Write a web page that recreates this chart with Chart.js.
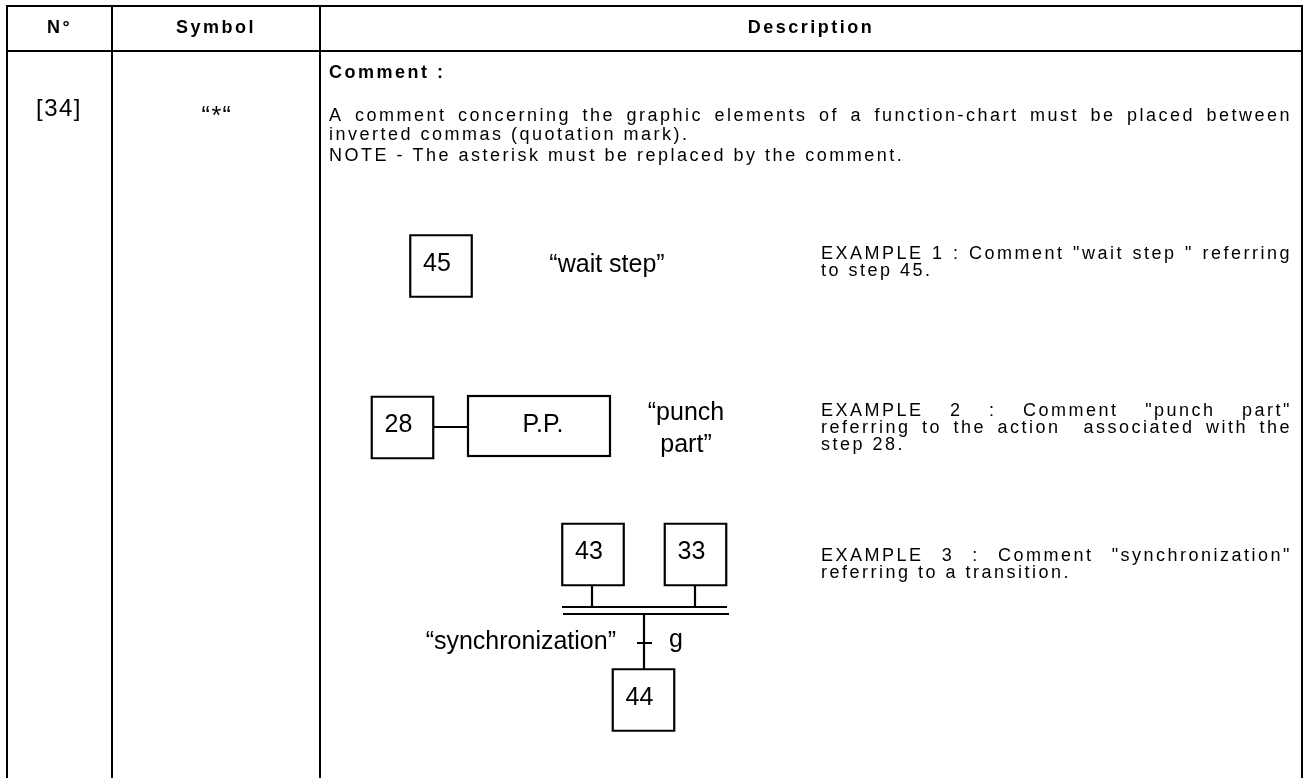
<!DOCTYPE html>
<html lang="en">
<head>
    <meta charset="UTF-8">
    <title>Comment symbol</title>
    <script src="https://cdn.jsdelivr.net/npm/chart.js"></script>
    <style>
        html, body { margin: 0; padding: 0; background: #fff; }
        #wrap { width: 1309px; height: 778px; }
    </style>
</head>
<body>
    <div id="wrap"><canvas id="sheet"></canvas></div>

    <script>
        // Table content
        const headers = ['N°', 'Symbol', 'Description'];
        const rowNumber = '[34]';
        const rowSymbol = '“*“';
        const descTitle = 'Comment :';
        const descText = [
            'A comment concerning the graphic elements of a function-chart must be placed between',
            'inverted commas (quotation mark).'
        ];
        const noteText = 'NOTE - The asterisk must be replaced by the comment.';

        // Diagram content
        const stepNumbers = ['45', '28', '43', '33', '44'];
        const actionLabels = ['P.P.'];
        const commentLabels = ['“wait step”', '“punch', 'part”', '“synchronization”'];
        const transitionLabels = ['g'];
        const example1 = ['EXAMPLE 1 : Comment "wait step " referring', 'to step 45.'];
        const example2 = ['EXAMPLE 2 : Comment "punch part"', 'referring to the action  associated with the', 'step 28.'];
        const example3 = ['EXAMPLE 3 : Comment "synchronization"', 'referring to a transition.'];

        // Layout (page units)
        const colX = [7, 112, 320, 1302];
        const tableTop = 6, headLine = 51, tableBottom = 778;
        const stepCenters = [[441, 266], [402.5, 427.5], [593, 554.5], [695.5, 554.5], [643.5, 700]];
        const boxSide = 61.5;
        const FONT = "'Liberation Sans', Arial, sans-serif";
        const TRACK = 2.5;

        const stepData = stepNumbers.map((s, i) => ({ x: stepCenters[i][0], y: stepCenters[i][1], label: s }));

        function drawText(ctx, str, x, y, size, opts) {
            opts = opts || {};
            ctx.font = (opts.bold ? 'bold ' : '') + size + 'px ' + FONT;
            ctx.letterSpacing = (opts.ls || 0) + 'px';
            ctx.textAlign = opts.align || 'left';
            ctx.textBaseline = 'middle';
            ctx.fillStyle = '#000';
            ctx.fillText(str, x, y);
        }

        function drawJustified(ctx, str, x0, x1, y, size, ls) {
            ctx.font = size + 'px ' + FONT;
            ctx.letterSpacing = ls + 'px';
            ctx.textAlign = 'left';
            ctx.textBaseline = 'middle';
            ctx.fillStyle = '#000';
            const words = str.split(' ');
            const widths = words.map(w => w ? ctx.measureText(w).width : 0);
            const total = widths.reduce((a, b) => a + b, 0);
            const gap = (x1 - x0 - total) / (words.length - 1);
            let x = x0;
            words.forEach((w, i) => {
                if (w) ctx.fillText(w, x, y);
                x += widths[i] + gap;
            });
        }

        const sheetPlugin = {
            id: 'sheet',
            afterDatasetsDraw(chart) {
                const ctx = chart.ctx;
                const px = v => chart.scales.x.getPixelForValue(v);
                const py = v => chart.scales.y.getPixelForValue(v);
                ctx.save();
                ctx.strokeStyle = '#000';
                ctx.lineCap = 'butt';

                // table grid
                ctx.lineWidth = 2;
                ctx.beginPath();
                ctx.moveTo(px(colX[0]), py(tableTop));
                ctx.lineTo(px(colX[3]), py(tableTop));
                ctx.moveTo(px(colX[0]), py(headLine));
                ctx.lineTo(px(colX[3]), py(headLine));
                colX.forEach(c => {
                    ctx.moveTo(px(c), py(tableTop - 1));
                    ctx.lineTo(px(c), py(tableBottom));
                });
                ctx.stroke();

                // headers
                headers.forEach((h, i) => {
                    drawText(ctx, h, px((colX[i] + colX[i + 1]) / 2), py(28), 18, { bold: true, align: 'center', ls: TRACK });
                });

                // row cells
                drawText(ctx, rowNumber, px(59), py(109), 24, { align: 'center', ls: 1.5 });
                drawText(ctx, rowSymbol, px(217), py(117), 25, { align: 'center', ls: 1.5 });
                drawText(ctx, descTitle, px(329), py(73), 18, { bold: true, ls: TRACK });
                drawJustified(ctx, descText[0], px(329), px(1292), py(116), 18, TRACK);
                drawText(ctx, descText[1], px(329), py(135), 18, { ls: TRACK });
                drawText(ctx, noteText, px(329), py(156), 18, { ls: TRACK });

                // examples
                const ex = [[example1, 254], [example2, 411], [example3, 556]];
                ex.forEach(([lines, y0]) => {
                    lines.forEach((l, i) => {
                        const y = py(y0 + i * 17);
                        if (i < lines.length - 1) drawJustified(ctx, l, px(821), px(1292), y, 18, TRACK);
                        else drawText(ctx, l, px(821), y, 18, { ls: TRACK });
                    });
                });

                // diagram links
                ctx.lineWidth = 2.2;
                ctx.beginPath();
                // step 28 -> action
                ctx.moveTo(px(433), py(427)); ctx.lineTo(px(468), py(427));
                // 43 / 33 down to the double bar
                ctx.moveTo(px(592), py(585)); ctx.lineTo(px(592), py(607));
                ctx.moveTo(px(695), py(585)); ctx.lineTo(px(695), py(607));
                ctx.moveTo(px(562), py(607)); ctx.lineTo(px(727), py(607));
                ctx.moveTo(px(563), py(614)); ctx.lineTo(px(729), py(614));
                // down to 44 with transition tick
                ctx.moveTo(px(644), py(614)); ctx.lineTo(px(644), py(669));
                ctx.moveTo(px(637), py(643)); ctx.lineTo(px(652), py(643));
                ctx.stroke();

                // action box
                ctx.strokeRect(px(468), py(396), px(610) - px(468), py(456) - py(396));

                // labels in the diagram
                chart.getDatasetMeta(0).data.forEach((pt, i) => {
                    drawText(ctx, stepNumbers[i], pt.x - 4, pt.y - 2, 25, { align: 'center' });
                });
                drawText(ctx, actionLabels[0], px(543), py(425), 25, { align: 'center' });
                drawText(ctx, commentLabels[0], px(607), py(265), 25, { align: 'center' });
                drawText(ctx, commentLabels[1], px(686), py(413), 25, { align: 'center' });
                drawText(ctx, commentLabels[2], px(686), py(445), 25, { align: 'center' });
                drawText(ctx, commentLabels[3], px(616), py(642), 25, { align: 'right' });
                drawText(ctx, transitionLabels[0], px(669), py(640), 25);
                ctx.restore();
            }
        };

        new Chart(document.getElementById('sheet'), {
            type: 'scatter',
            data: {
                datasets: [{
                    label: 'steps',
                    data: stepData,
                    pointStyle: 'rect',
                    pointRadius: boxSide / Math.SQRT2,
                    pointHoverRadius: boxSide / Math.SQRT2,
                    backgroundColor: '#fff',
                    borderColor: '#000',
                    borderWidth: 2.2
                }]
            },
            options: {
                responsive: true,
                maintainAspectRatio: false,
                animation: false,
                events: [],
                layout: { padding: 0, autoPadding: false },
                plugins: {
                    legend: { display: false },
                    tooltip: { enabled: false }
                },
                scales: {
                    x: { type: 'linear', min: 0, max: 1309, display: false },
                    y: { type: 'linear', min: 0, max: 778, reverse: true, display: false }
                }
            },
            plugins: [sheetPlugin]
        });
    </script>
</body>
</html>
